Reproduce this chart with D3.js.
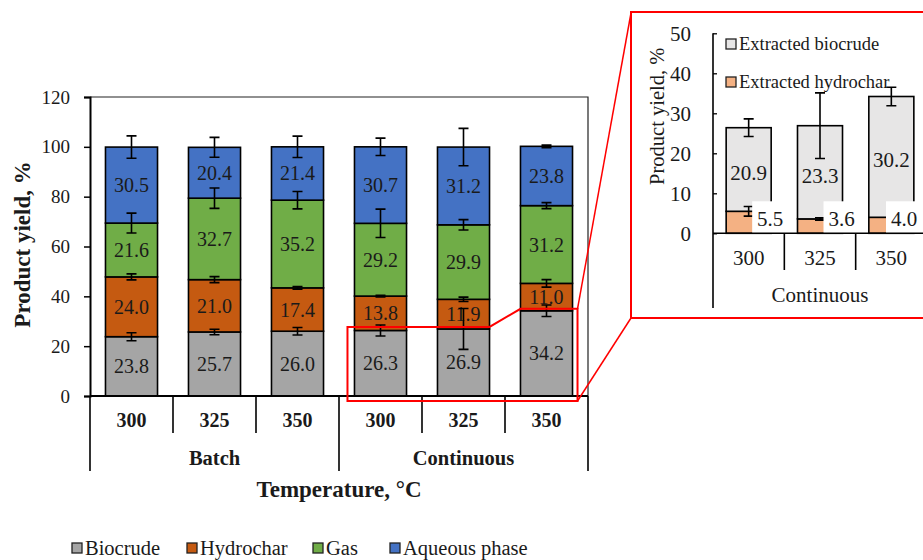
<!DOCTYPE html>
<html>
<head>
<meta charset="utf-8">
<script src="https://cdn.jsdelivr.net/npm/d3@7/dist/d3.min.js"></script>
<style>
  html, body { margin: 0; padding: 0; background: #fff; }
  svg { display: block; }
  svg text { font-family: "Liberation Serif", "Times New Roman", serif; }
</style>
</head>
<body>
<svg id="chart" width="923" height="560"></svg>
<script>
// ---- Data ----
const temperatures = ["300", "325", "350", "300", "325", "350"];
const modes = ["Batch", "Batch", "Batch", "Continuous", "Continuous", "Continuous"];
const seriesNames = ["Biocrude", "Hydrochar", "Gas", "Aqueous phase"];

const biocrude  = [23.8, 25.7, 26.0, 26.3, 26.9, 34.2];
const hydrochar = [24.0, 21.0, 17.4, 13.8, 11.9, 11.0];
const gas       = [21.6, 32.7, 35.2, 29.2, 29.9, 31.2];
const aqueous   = [30.5, 20.4, 21.4, 30.7, 31.2, 23.8];

const biocrudeErr  = [1.6, 1.1, 1.5, 2.2, 8.2, 2.3];
const hydrocharErr = [1.2, 1.2, 0.5, 0.3, 0.9, 1.5];
const gasErr       = [4.0, 4.1, 3.5, 5.7, 2.1, 1.2];
const aqueousErr   = [4.5, 4.0, 4.3, 3.5, 7.5, 0.5];

const yTicks = [0, 20, 40, 60, 80, 100, 120];

// Inset: extracted fractions for the continuous runs
const insetTemps = ["300", "325", "350"];
const extractedHydrochar = [5.5, 3.6, 4.0];
const extractedBiocrude  = [20.9, 23.3, 30.2];
const extractedHydrocharErr = [1.2, 0.3, 0.0];
const extractedTotalErr     = [2.2, 8.2, 2.3];
const insetYTicks = [0, 10, 20, 30, 40, 50];

// ---- Styles ----
const colors = ["#A5A5A5", "#C55A11", "#70AD47", "#4472C4"];
const insetColors = ["#F4B183", "#E7E6E6"];
const textColor = "#1a1a1a";
const red = "#FF0000";

const svg = d3.select("#chart");

// ================= Main chart =================
const plot = { left: 90, right: 588, top: 97, bottom: 396 };
const x = d3.scaleBand().domain(d3.range(temperatures.length))
  .range([plot.left, plot.right]).paddingInner(0.373).paddingOuter(0.1865);
const y = d3.scaleLinear().domain([0, 120]).range([plot.bottom, plot.top]);

// plot area frame (top + right)
svg.append("path")
  .attr("d", `M${plot.left},${plot.top}H${plot.right}V${plot.bottom}`)
  .attr("fill", "none").attr("stroke", "#222").attr("stroke-width", 1.2);

// stacked data
const rows = temperatures.map((t, i) => ({
  i, Biocrude: biocrude[i], Hydrochar: hydrochar[i], Gas: gas[i], "Aqueous phase": aqueous[i]
}));
const errs = [biocrudeErr, hydrocharErr, gasErr, aqueousErr];
const stacked = d3.stack().keys(seriesNames)(rows);

const layers = svg.append("g").selectAll("g").data(stacked).join("g")
  .attr("fill", (d, k) => colors[k]);
layers.selectAll("rect").data(d => d).join("rect")
  .attr("x", d => x(d.data.i))
  .attr("width", x.bandwidth())
  .attr("y", d => y(d[1]))
  .attr("height", d => y(d[0]) - y(d[1]))
  .attr("stroke", "#000").attr("stroke-width", 1.6);

// value labels
stacked.forEach((layer, k) => {
  svg.append("g").selectAll("text").data(layer).join("text")
    .attr("x", d => x(d.data.i) + x.bandwidth() / 2)
    .attr("y", d => y((d[0] + d[1]) / 2))
    .attr("dy", "0.35em")
    .attr("text-anchor", "middle")
    .attr("font-size", 20)
    .attr("fill", textColor)
    .text(d => d.data[seriesNames[k]].toFixed(1));
});

// error bars at the top of each segment
const capW = 10;
stacked.forEach((layer, k) => {
  const g = svg.append("g").attr("stroke", "#000").attr("stroke-width", 1.6).attr("fill", "none");
  layer.forEach(d => {
    const e = errs[k][d.data.i];
    const cx = x(d.data.i) + x.bandwidth() / 2;
    const y1 = y(d[1] + e), y0 = y(d[1] - e);
    g.append("path").attr("d",
      `M${cx},${y1}V${y0}M${cx - capW / 2},${y1}H${cx + capW / 2}M${cx - capW / 2},${y0}H${cx + capW / 2}`);
  });
});

// y axis
const yAxis = svg.append("g").attr("transform", `translate(${plot.left},0)`)
  .call(d3.axisLeft(y).tickValues(yTicks).tickSize(6).tickPadding(14));
yAxis.select(".domain").attr("stroke", "#000").attr("stroke-width", 2);
yAxis.selectAll(".tick line").attr("stroke", "#000").attr("stroke-width", 1.5);
yAxis.selectAll(".tick text").attr("font-size", 19).attr("fill", textColor);

// x axis line and category dividers
svg.append("line").attr("x1", plot.left).attr("x2", plot.right)
  .attr("y1", plot.bottom).attr("y2", plot.bottom)
  .attr("stroke", "#000").attr("stroke-width", 2);

const step = x.step();
const edges = d3.range(temperatures.length + 1).map(i => plot.left + i * step);
edges.forEach((ex, i) => {
  const groupEdge = i === 0 || i === temperatures.length || modes[i] !== modes[i - 1];
  svg.append("line").attr("x1", ex).attr("x2", ex)
    .attr("y1", plot.bottom).attr("y2", groupEdge ? 471 : 433)
    .attr("stroke", "#000").attr("stroke-width", 1.6);
});

svg.append("g").selectAll("text").data(temperatures).join("text")
  .attr("x", (d, i) => x(i) + x.bandwidth() / 2)
  .attr("y", 420).attr("dy", "0.35em")
  .attr("text-anchor", "middle").attr("font-weight", "bold").attr("font-size", 20)
  .attr("fill", textColor).text(d => d);

const groups = Array.from(d3.group(d3.range(modes.length), i => modes[i]), ([name, idx]) => ({ name, idx }));
svg.append("g").selectAll("text").data(groups).join("text")
  .attr("x", d => (x(d.idx[0]) + x(d.idx[d.idx.length - 1]) + x.bandwidth()) / 2)
  .attr("y", 458).attr("dy", "0.35em")
  .attr("text-anchor", "middle").attr("font-weight", "bold").attr("font-size", 20.5)
  .attr("fill", textColor).text(d => d.name);

// axis titles
svg.append("text")
  .attr("x", (plot.left + plot.right) / 2).attr("y", 489).attr("dy", "0.35em")
  .attr("text-anchor", "middle").attr("font-weight", "bold").attr("font-size", 23)
  .attr("fill", textColor).text("Temperature, °C");

svg.append("text")
  .attr("transform", `translate(22,${(plot.top + plot.bottom) / 2 - 2}) rotate(-90)`)
  .attr("dy", "0.35em")
  .attr("text-anchor", "middle").attr("font-weight", "bold").attr("font-size", 23)
  .attr("fill", textColor).text("Product yield, %");

// legend
const legendX = [72, 187, 313, 390];
const legend = svg.append("g").selectAll("g").data(seriesNames).join("g")
  .attr("transform", (d, k) => `translate(${legendX[k]},543)`);
legend.append("rect").attr("width", 10).attr("height", 10)
  .attr("fill", (d, k) => colors[k]).attr("stroke", "#222").attr("stroke-width", 1.3);
legend.append("text").attr("x", 13).attr("y", 5).attr("dy", "0.35em")
  .attr("font-size", 20.5).attr("fill", textColor).text(d => d);

// ================= Zoom callout =================
const c300 = 3, c325 = 4, c350 = 5;
const lowTop = y(27.7), highTop = y(35), calloutBottom = y(-2);
const calloutPts = [
  [x(c300) - 7, lowTop],
  [x(c325) + x.bandwidth(), lowTop],
  [x(c350), highTop],
  [x(c350) + x.bandwidth() + 5, highTop],
  [x(c350) + x.bandwidth() + 5, calloutBottom],
  [x(c300) - 7, calloutBottom]
];
svg.append("path").attr("d", d3.line()(calloutPts) + "Z")
  .attr("fill", "none").attr("stroke", red).attr("stroke-width", 2);

const inset = { left: 631, top: 12, right: 935, bottom: 318 };
svg.append("rect").attr("x", inset.left).attr("y", inset.top)
  .attr("width", inset.right - inset.left).attr("height", inset.bottom - inset.top)
  .attr("fill", "#fff").attr("stroke", red).attr("stroke-width", 2);
svg.append("line").attr("x1", calloutPts[3][0]).attr("y1", calloutPts[3][1])
  .attr("x2", inset.left).attr("y2", inset.top + 1)
  .attr("stroke", red).attr("stroke-width", 1.5);
svg.append("line").attr("x1", calloutPts[4][0]).attr("y1", calloutPts[4][1])
  .attr("x2", inset.left).attr("y2", inset.bottom)
  .attr("stroke", red).attr("stroke-width", 1.5);

// ================= Inset chart =================
const ix = d3.scaleBand().domain(d3.range(insetTemps.length))
  .range([713, 927]).paddingInner(0.369).paddingOuter(0.1845);
const iy = d3.scaleLinear().domain([0, 50]).range([233.3, 33.3]);

const irows = insetTemps.map((t, i) => ({ i, h: extractedHydrochar[i], b: extractedBiocrude[i] }));
const istack = d3.stack().keys(["h", "b"])(irows);

svg.append("g").selectAll("g").data(istack).join("g")
  .attr("fill", (d, k) => insetColors[k])
  .selectAll("rect").data(d => d).join("rect")
  .attr("x", d => ix(d.data.i)).attr("width", ix.bandwidth())
  .attr("y", d => iy(d[1])).attr("height", d => iy(d[0]) - iy(d[1]))
  .attr("stroke", "#000").attr("stroke-width", 1.6);

// extracted biocrude labels
svg.append("g").selectAll("text").data(istack[1]).join("text")
  .attr("x", d => ix(d.data.i) + ix.bandwidth() / 2)
  .attr("y", d => iy((d[0] + d[1]) / 2) + 3).attr("dy", "0.35em")
  .attr("text-anchor", "middle").attr("font-size", 21).attr("fill", textColor)
  .text(d => d.data.b.toFixed(1));

// inset error bars
const ierrs = [extractedHydrocharErr, extractedTotalErr];
istack.forEach((layer, k) => {
  const g = svg.append("g").attr("stroke", "#000").attr("stroke-width", 1.6).attr("fill", "none");
  layer.forEach(d => {
    const e = ierrs[k][d.data.i];
    if (e <= 0) return;
    const cx = ix(d.data.i) + ix.bandwidth() / 2;
    const y1 = iy(d[1] + e), y0 = iy(d[1] - e);
    g.append("path").attr("d",
      `M${cx},${y1}V${y0}M${cx - capW / 2},${y1}H${cx + capW / 2}M${cx - capW / 2},${y0}H${cx + capW / 2}`);
  });
});

// extracted hydrochar labels on white boxes beside each bar
const hLabels = svg.append("g").selectAll("g").data(istack[0]).join("g")
  .attr("transform", d => {
    const cx = Math.min(ix(d.data.i) + ix.bandwidth() - 1, 904);
    return `translate(${cx},${iy(0) - 15})`;
  });
hLabels.append("rect").attr("x", -18).attr("y", -17).attr("width", 36).attr("height", 32)
  .attr("fill", "#fff");
hLabels.append("text").attr("dy", "0.35em").attr("text-anchor", "middle")
  .attr("font-size", 21).attr("fill", textColor).text(d => d.data.h.toFixed(1));

// inset axes (ticks point inward)
const iAxis = svg.append("g").attr("transform", "translate(713,0)")
  .call(d3.axisLeft(iy).tickValues(insetYTicks).tickSize(-4).tickPadding(22));
iAxis.select(".domain").remove();
iAxis.selectAll(".tick line").attr("stroke", "#000").attr("stroke-width", 1.3);
iAxis.selectAll(".tick text").attr("font-size", 21).attr("fill", textColor);
svg.append("line").attr("x1", 713).attr("x2", 713).attr("y1", iy(50)).attr("y2", 308)
  .attr("stroke", "#000").attr("stroke-width", 1.6);
svg.append("line").attr("x1", 713).attr("x2", 927).attr("y1", iy(0)).attr("y2", iy(0))
  .attr("stroke", "#000").attr("stroke-width", 1.6);
d3.range(1, insetTemps.length).forEach(i => {
  const ex = 713 + i * ix.step();
  svg.append("line").attr("x1", ex).attr("x2", ex).attr("y1", iy(0)).attr("y2", 270)
    .attr("stroke", "#000").attr("stroke-width", 1.6);
});
svg.append("g").selectAll("text").data(insetTemps).join("text")
  .attr("x", (d, i) => ix(i) + ix.bandwidth() / 2).attr("y", 258).attr("dy", "0.35em")
  .attr("text-anchor", "middle").attr("font-size", 21).attr("fill", textColor).text(d => d);
svg.append("text").attr("x", 820).attr("y", 295).attr("dy", "0.35em")
  .attr("text-anchor", "middle").attr("font-size", 21).attr("fill", textColor).text("Continuous");
svg.append("text")
  .attr("transform", `translate(657,${(iy(50) + iy(0)) / 2 - 17}) rotate(-90)`)
  .attr("dy", "0.35em").attr("text-anchor", "middle").attr("font-size", 20.5)
  .attr("fill", textColor).text("Product yield, %");

// inset legend
const insetLegend = [["Extracted biocrude", insetColors[1]], ["Extracted hydrochar", insetColors[0]]];
const il = svg.append("g").selectAll("g").data(insetLegend).join("g")
  .attr("transform", (d, k) => `translate(726,${39 + k * 38})`);
il.append("rect").attr("width", 10).attr("height", 10)
  .attr("fill", d => d[1]).attr("stroke", "#222").attr("stroke-width", 1.3);
il.append("text").attr("x", 13).attr("y", 5).attr("dy", "0.35em")
  .attr("font-size", 18.5).attr("fill", textColor).text(d => d[0]);
</script>
</body>
</html>
